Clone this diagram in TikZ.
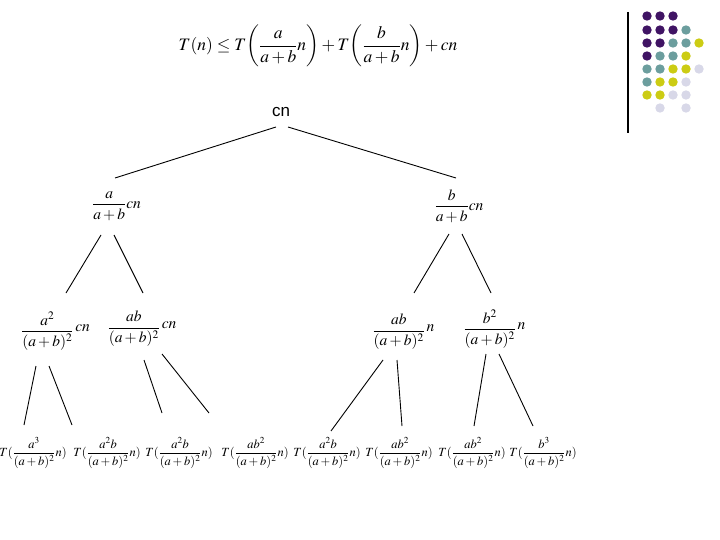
\documentclass[tikz,border=0pt]{standalone}
\usepackage{mathptmx}
\usepackage{amsmath}
\usepackage[no-math]{fontspec}
\newfontfamily\arialf{Liberation Sans}
\definecolor{dP}{RGB}{64,20,100}
\definecolor{dT}{RGB}{108,158,158}
\definecolor{dY}{RGB}{204,204,20}
\definecolor{dL}{RGB}{216,216,232}
\begin{document}
\begin{tikzpicture}[x=1pt,y=-1pt,
  lab/.style={inner sep=0pt},
  big/.style={lab,font=\fontsize{17.5}{21}\selectfont},
  mid/.style={lab,font=\fontsize{15.5}{18}\selectfont},
  small/.style={lab,font=\fontsize{12.5}{15}\selectfont},
  edge/.style={draw=black,line width=0.9pt},
  dot/.style={circle,inner sep=0pt,minimum size=9.4pt}]
\fill[white] (0,0) rectangle (720,540);
\useasboundingbox (0,0) rectangle (720,540);
% top formula
\node[big] (top) at (318,46) {$T(n)\le T{\left(\dfrac{a}{a+b}n\right)}+T{\left(\dfrac{b}{a+b}n\right)}+cn$};
% tree
\node[lab,font=\arialf\fontsize{17}{20}\selectfont] (root) at (281,112) {cn};
\node[mid] (l1a) at (116.5,206) {$\dfrac{a}{a+b}cn$};
\node[mid] (l1b) at (459,206) {$\dfrac{b}{a+b}cn$};
\node[mid] (l2a) at (55.5,331) {$\dfrac{a^2}{(a+b)^2}\,\raisebox{4pt}{$cn$}$};
\node[mid] (l2b) at (142,329) {$\dfrac{ab}{(a+b)^2}\,\raisebox{4pt}{$cn$}$};
\node[mid] (l2c) at (403.5,332) {$\dfrac{ab}{(a+b)^2}\,\raisebox{4pt}{$n$}$};
\node[mid] (l2d) at (494.5,329) {$\dfrac{b^2}{(a+b)^2}\,\raisebox{4pt}{$n$}$};
\node[small] (l3a) at (33,453) {$T(\dfrac{a^3}{(a+b)^2}n)$};
\node[small] (l3b) at (107,453) {$T(\dfrac{a^2b}{(a+b)^2}n)$};
\node[small] (l3c) at (179,453) {$T(\dfrac{a^2b}{(a+b)^2}n)$};
\node[small] (l3d) at (255,453) {$T(\dfrac{ab^2}{(a+b)^2}n)$};
\node[small] (l3e) at (327,453) {$T(\dfrac{a^2b}{(a+b)^2}n)$};
\node[small] (l3f) at (399,453) {$T(\dfrac{ab^2}{(a+b)^2}n)$};
\node[small] (l3g) at (472,453) {$T(\dfrac{ab^2}{(a+b)^2}n)$};
\node[small] (l3h) at (543,453) {$T(\dfrac{b^3}{(a+b)^2}n)$};
% connectors
\draw[edge] ([shift={(-5,15)}]root.center) -- ([shift={(-1.5,-28)}]l1a.center);
\draw[edge] ([shift={(7,15)}]root.center) -- ([shift={(-3,-28)}]l1b.center);
\draw[edge] ([shift={(-15.5,29)}]l1a.center) -- ([shift={(10.5,-38)}]l2a.center);
\draw[edge] ([shift={(-2.5,29)}]l1a.center) -- ([shift={(1,-36)}]l2b.center);
\draw[edge] ([shift={(-10,28)}]l1b.center) -- ([shift={(10.5,-39)}]l2c.center);
\draw[edge] ([shift={(3,28)}]l1b.center) -- ([shift={(-3.5,-36)}]l2d.center);
\draw[edge] ([shift={(-19.5,35)}]l2a.center) -- ([shift={(-9,-28)}]l3a.center);
\draw[edge] ([shift={(-6.5,35)}]l2a.center) -- ([shift={(-35,-28)}]l3b.center);
\draw[edge] ([shift={(2,31)}]l2b.center) -- ([shift={(-17,-40)}]l3c.center);
\draw[edge] ([shift={(20,25)}]l2b.center) -- ([shift={(-46,-40)}]l3d.center);
\draw[edge] ([shift={(-20.5,28)}]l2c.center) -- ([shift={(4,-22)}]l3e.center);
\draw[edge] ([shift={(-6.5,28)}]l2c.center) -- ([shift={(3,-27)}]l3f.center);
\draw[edge] ([shift={(-8.5,25)}]l2d.center) -- ([shift={(2,-27)}]l3g.center);
\draw[edge] ([shift={(4.5,25)}]l2d.center) -- ([shift={(-10,-27)}]l3h.center);
% decoration: vertical bar and dots
\draw[line width=1.5pt] (628,12) -- (628,133);
\foreach \c/\x/\y in {
  dP/647/16, dP/660/16, dP/673/16,
  dP/647/30, dP/660/30, dP/673/30, dT/686/30,
  dP/647/43, dP/660/43, dT/673/43, dT/686/43, dY/699/43,
  dP/647/56, dT/660/56, dT/673/56, dY/686/56,
  dT/647/69, dT/660/69, dY/673/69, dY/686/69, dL/699/69,
  dT/647/82, dY/660/82, dY/673/82, dL/686/82,
  dY/647/95, dY/660/95, dL/673/95, dL/686/95,
  dL/660/108, dL/686/108}
  \fill[\c] (\x,\y) circle (4.7);
\end{tikzpicture}
\end{document}
